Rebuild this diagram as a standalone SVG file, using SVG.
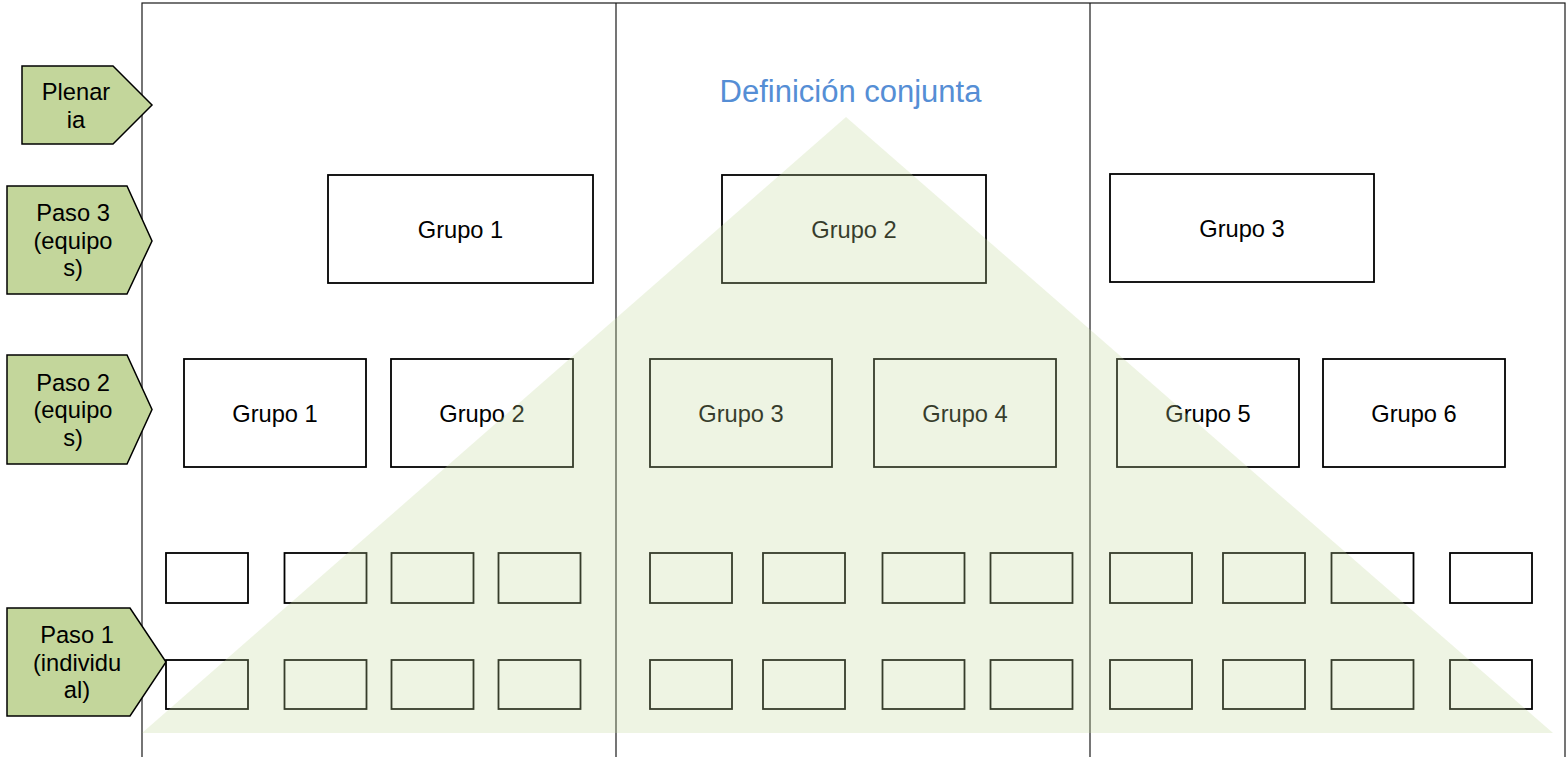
<svg xmlns="http://www.w3.org/2000/svg" width="1566" height="757" viewBox="0 0 1566 757">
<style>
.frame{fill:none;stroke:#1a1a1a;stroke-width:1.2}
.box{fill:#ffffff;stroke:#000000;stroke-width:1.8}
.step{fill:#C3D69B;stroke:#000000;stroke-width:1.5;stroke-linejoin:miter}
.t{font-family:"Liberation Sans",Arial,sans-serif;font-size:23.7px;fill:#000000;text-anchor:middle}
.title{font-family:"Liberation Sans",Arial,sans-serif;font-size:31px;fill:#558ED5;text-anchor:middle}
.tri{fill:#C3D69B;fill-opacity:0.28;stroke:none}
</style>
<rect width="1566" height="757" fill="#ffffff"/>
<g id="frame">
<rect class="frame" x="142" y="3" width="1423" height="770"/>
<line class="frame" x1="616" y1="3" x2="616" y2="757"/>
<line class="frame" x1="1090" y1="3" x2="1090" y2="757"/>
</g>
<g id="connectors"></g>
<g id="label-plenaria">
<polygon class="step" points="22,66 113,66 152,105 113,144 22,144"/>
<text class="t" x="76" y="99.5">Plenar</text>
<text class="t" x="76" y="127.5">ia</text>
</g>
<g id="label-paso3">
<polygon class="step" points="7,186 127,186 152,241 127,294 7,294"/>
<text class="t" x="73" y="221">Paso 3</text>
<text class="t" x="73" y="248.5">(equipo</text>
<text class="t" x="73" y="276">s)</text>
</g>
<g id="label-paso2">
<polygon class="step" points="7,355 127,355 152,409.5 127,464 7,464"/>
<text class="t" x="73" y="390.5">Paso 2</text>
<text class="t" x="73" y="418">(equipo</text>
<text class="t" x="73" y="445.5">s)</text>
</g>
<g id="label-paso1">
<polygon class="step" points="7,608 130,608 166,662 130,716 7,716"/>
<text class="t" x="77" y="643">Paso 1</text>
<text class="t" x="77" y="670.5">(individu</text>
<text class="t" x="77" y="698">al)</text>
</g>
<g id="title">
<text class="title" x="850.5" y="102">Definición conjunta</text>
</g>
<g id="p3-grupo1"><rect class="box" x="328" y="175" width="265" height="108"/><text class="t" x="460.5" y="237.5">Grupo 1</text></g>
<g id="p3-grupo2"><rect class="box" x="722" y="175" width="264" height="108"/><text class="t" x="854" y="237.5">Grupo 2</text></g>
<g id="p3-grupo3"><rect class="box" x="1110" y="174" width="264" height="108"/><text class="t" x="1242" y="236.5">Grupo 3</text></g>
<g id="p2-grupo1"><rect class="box" x="184" y="359" width="182" height="108"/><text class="t" x="275" y="421.5">Grupo 1</text></g>
<g id="p2-grupo2"><rect class="box" x="391" y="359" width="182" height="108"/><text class="t" x="482" y="421.5">Grupo 2</text></g>
<g id="p2-grupo3"><rect class="box" x="650" y="359" width="182" height="108"/><text class="t" x="741" y="421.5">Grupo 3</text></g>
<g id="p2-grupo4"><rect class="box" x="874" y="359" width="182" height="108"/><text class="t" x="965" y="421.5">Grupo 4</text></g>
<g id="p2-grupo5"><rect class="box" x="1117" y="359" width="182" height="108"/><text class="t" x="1208" y="421.5">Grupo 5</text></g>
<g id="p2-grupo6"><rect class="box" x="1323" y="359" width="182" height="108"/><text class="t" x="1414" y="421.5">Grupo 6</text></g>
<g id="p1-row1">
<rect class="box" x="166" y="553" width="82" height="50"/>
<rect class="box" x="284.5" y="553" width="82" height="50"/>
<rect class="box" x="391.5" y="553" width="82" height="50"/>
<rect class="box" x="498.5" y="553" width="82" height="50"/>
<rect class="box" x="650" y="553" width="82" height="50"/>
<rect class="box" x="763" y="553" width="82" height="50"/>
<rect class="box" x="882.5" y="553" width="82" height="50"/>
<rect class="box" x="990.5" y="553" width="82" height="50"/>
<rect class="box" x="1110" y="553" width="82" height="50"/>
<rect class="box" x="1223" y="553" width="82" height="50"/>
<rect class="box" x="1331.5" y="553" width="82" height="50"/>
<rect class="box" x="1450" y="553" width="82" height="50"/>
</g>
<g id="p1-row2">
<rect class="box" x="166" y="660" width="82" height="49"/>
<rect class="box" x="284.5" y="660" width="82" height="49"/>
<rect class="box" x="391.5" y="660" width="82" height="49"/>
<rect class="box" x="498.5" y="660" width="82" height="49"/>
<rect class="box" x="650" y="660" width="82" height="49"/>
<rect class="box" x="763" y="660" width="82" height="49"/>
<rect class="box" x="882.5" y="660" width="82" height="49"/>
<rect class="box" x="990.5" y="660" width="82" height="49"/>
<rect class="box" x="1110" y="660" width="82" height="49"/>
<rect class="box" x="1223" y="660" width="82" height="49"/>
<rect class="box" x="1331.5" y="660" width="82" height="49"/>
<rect class="box" x="1450" y="660" width="82" height="49"/>
</g>
<g id="triangle">
<polygon class="tri" points="846,117 1553,733 142,733"/>
</g>
</svg>
